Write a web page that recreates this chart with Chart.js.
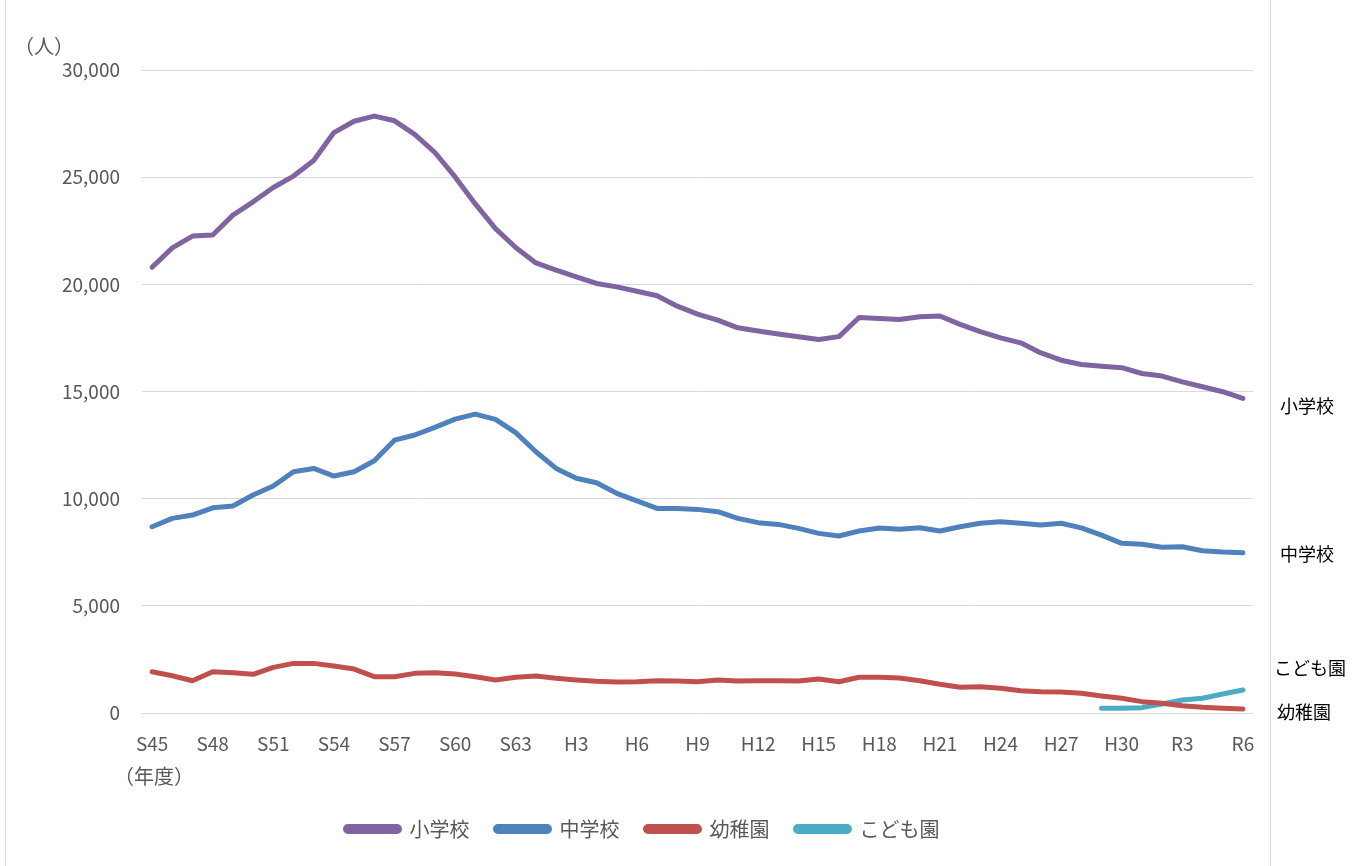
<!DOCTYPE html>
<html><head><meta charset="utf-8">
<script src="https://cdn.jsdelivr.net/npm/chart.js@4/dist/chart.umd.min.js"></script>
<style>
html,body{margin:0;padding:0;background:#fff;}
#frame{position:absolute;left:5px;top:0;width:1264px;height:866px;border-left:1px solid #d9d9d9;border-right:1px solid #d9d9d9;}
#wrap{position:absolute;left:0;top:0;width:1359px;height:866px;}
</style></head>
<body>
<div id="frame"></div>
<div id="wrap"><canvas id="c" width="1359" height="866"></canvas></div>
<script>
const years = ["S45","S46","S47","S48","S49","S50","S51","S52","S53","S54","S55","S56","S57","S58","S59","S60","S61","S62","S63",
"H1","H2","H3","H4","H5","H6","H7","H8","H9","H10","H11","H12","H13","H14","H15","H16","H17","H18","H19","H20","H21","H22","H23","H24","H25","H26","H27","H28","H29","H30",
"R1","R2","R3","R4","R5","R6"];
const elementary = [20800,21700,22250,22300,23230,23850,24520,25050,25780,27080,27610,27850,27630,27000,26150,25010,23750,22600,21720,
21000,20660,20350,20040,19880,19680,19470,18980,18610,18330,17970,17820,17680,17550,17430,17560,18450,18410,18360,18490,18520,18130,17790,17500,17270,16800,16460,16260,16180,16110,
15840,15720,15450,15220,14990,14680];
const juniorHigh = [8690,9080,9235,9575,9655,10170,10590,11255,11410,11055,11255,11770,12730,12970,13325,13710,13945,13700,13080,
12190,11410,10950,10740,10250,9900,9545,9545,9500,9390,9080,8880,8800,8615,8380,8260,8490,8630,8570,8640,8490,8690,8850,8920,8850,8770,8850,8640,8300,7915,
7870,7730,7760,7570,7510,7475];
const kindergarten = [1925,1740,1505,1925,1880,1805,2130,2315,2315,2190,2050,1695,1695,1850,1880,1820,1695,1540,1665,
1725,1620,1540,1480,1445,1460,1505,1490,1460,1540,1490,1505,1505,1490,1585,1460,1665,1665,1630,1505,1340,1200,1230,1150,1040,995,980,920,795,685,
530,450,340,265,220,185];
const kodomoen = [null,null,null,null,null,null,null,null,null,null,null,null,null,null,null,null,null,null,null,
null,null,null,null,null,null,null,null,null,null,null,null,null,null,null,null,null,null,null,null,null,null,null,null,null,null,null,null,220,220,
250,420,605,685,885,1075];
const seriesNames = ["小学校","中学校","幼稚園","こども園"];
const seriesColors = ["#8064A2","#4F81BD","#C0504D","#4BACC6"];
const yTicks = [0,5000,10000,15000,20000,25000,30000];

const FONT = "'Noto Sans CJK JP','Noto Sans',sans-serif";
const GRAY = "#595959";

const annot = {
  id:'annot',
  afterDraw(chart){
    const ctx = chart.ctx;
    ctx.save();
    ctx.textBaseline = 'middle';
    ctx.fillStyle = GRAY;
    ctx.font = "20px " + FONT;
    ctx.textAlign = 'left';
    ctx.fillText("（人）", 14, 46);
    ctx.fillText("（年度）", 114, 776);
    ctx.fillStyle = "#000";
    ctx.font = "18px " + FONT;
    ctx.fillText("小学校", 1280, 406);
    ctx.fillText("中学校", 1280, 554);
    ctx.fillText("こども園", 1274, 668);
    ctx.fillText("幼稚園", 1277, 712);
    ctx.restore();
  }
};

const datasets = [elementary, juniorHigh, kindergarten, kodomoen].map((d,i)=>({
  label: seriesNames[i], data: d, borderColor: seriesColors[i], backgroundColor: seriesColors[i],
  borderWidth: 5, pointRadius: 0, tension: 0, borderCapStyle:'round', borderJoinStyle:'round', spanGaps:false
}));

new Chart(document.getElementById('c'), {
  type:'line',
  data:{ labels: years, datasets },
  options:{
    responsive:false, animation:false, events:[],
    layout:{ padding:{ top:70, right:106, left:32, bottom:17 } },
    plugins:{
      tooltip:{enabled:false},
      legend:{ position:'bottom',
        labels:{ color:GRAY, font:{family:FONT, size:20}, boxWidth:54, boxHeight:5, padding:26, useBorderRadius:true, borderRadius:2.5 } }
    },
    scales:{
      x:{ offset:true,
        grid:{display:false, drawTicks:false}, border:{display:false},
        ticks:{ autoSkip:false, maxRotation:0, minRotation:0, padding:19, color:GRAY, font:{family:FONT, size:19},
          callback:(v,i)=> i%3===0 ? years[i] : '' },
        afterFit:(s)=>{ s.height = 80; }
      },
      y:{ min:0, max:30000,
        afterBuildTicks:(s)=>{ s.ticks = yTicks.map(v=>({value:v})); },
        grid:{ color:'#d9d9d9', lineWidth:1, drawTicks:false }, border:{display:false},
        ticks:{ padding:22, color:GRAY, font:{family:FONT, size:19}, callback:(v)=> v.toLocaleString('en-US') },
        afterFit:(s)=>{ s.width = 110; }
      }
    }
  },
  plugins:[annot]
});
</script>
</body></html>
